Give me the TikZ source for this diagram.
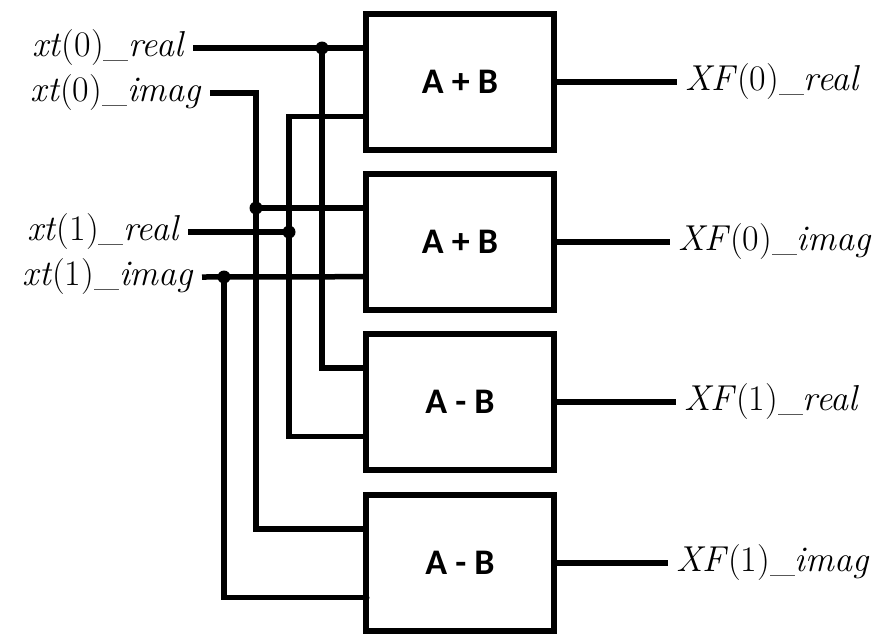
\documentclass[tikz,border=0pt]{standalone}
\usepackage{fontspec}
\usepackage{tikz}
\usetikzlibrary{calc}
\newfontfamily\opfont{Carlito}
\newcommand\sg[3]{\textit{#1}(#2)\_\textit{#3}}

\begin{document}
\begin{tikzpicture}[x=1pt,y=-1pt,line width=5.5pt,
        op/.style={draw,outer sep=0pt,inner sep=0pt,minimum width=188pt,minimum height=136pt,font=\opfont\bfseries\fontsize{36}{40}\selectfont},
        sig/.style={outer sep=0pt,inner ysep=0pt,inner xsep=8pt,font=\fontsize{36}{42}\selectfont},
        jn/.style={circle,fill,inner sep=0pt,minimum size=13pt}]
        \useasboundingbox (0,0) rectangle (878,633);
        \node[op] (add0) at (460,82) {A + B};
        \node[op] (add1) at (460,242) {A + B};
        \node[op] (sub0) at (460,402) {A - B};
        \node[op] (sub1) at (460,563) {A - B};
        \foreach \b in {add0,add1,sub0,sub1} {
          \coordinate (\b-a) at ($(\b.north west)!0.25!(\b.south west)$);
          \coordinate (\b-b) at ($(\b.north west)!0.755!(\b.south west)$);
        }
        \node[sig,anchor=east] (xr0) at (193,48) {\sg{xt}{0}{real}};
        \node[sig,anchor=east] (xi0) at (210,93) {\sg{xt}{0}{imag}};
        \node[sig,anchor=east] (xr1) at (188,232) {\sg{xt}{1}{real}};
        \node[sig,anchor=east] (xi1) at (202,277) {\sg{xt}{1}{imag}};
        \node[jn] (d0) at (322,48) {};
        \node[jn] (d1) at (256,208) {};
        \node[jn] (d2) at (289,232) {};
        \node[jn] (d3) at (224,277) {};
        % inputs
        \draw (xr0.east) -- (add0-a);
        \draw (d0.center) |- (sub0-a);
        \draw (xi0.east) -| (d1.center) |- (sub1-a);
        \draw (d1.center) -- (add1-a);
        \draw (xr1.east) -- (d2.center);
        \draw (add0-b) -| (d2.center) |- (sub0-b);
        \draw (xi1.east) -- (add1-b);
        \draw (d3.center) |- (sub1-b);
        \fill (sub1-b) circle (3.5pt);
        % outputs
        \node[sig,anchor=west] (y0r) at (677,82) {\sg{XF}{0}{real}};
        \node[sig,anchor=west] (y0i) at (670,242) {\sg{XF}{0}{imag}};
        \node[sig,anchor=west] (y1r) at (676,402) {\sg{XF}{1}{real}};
        \node[sig,anchor=west] (y1i) at (668,563) {\sg{XF}{1}{imag}};
        \draw (add0.east) -- (y0r.west);
        \draw (add1.east) -- (y0i.west);
        \draw (sub0.east) -- (y1r.west);
        \draw (sub1.east) -- (y1i.west);
      \end{tikzpicture}
\end{document}
